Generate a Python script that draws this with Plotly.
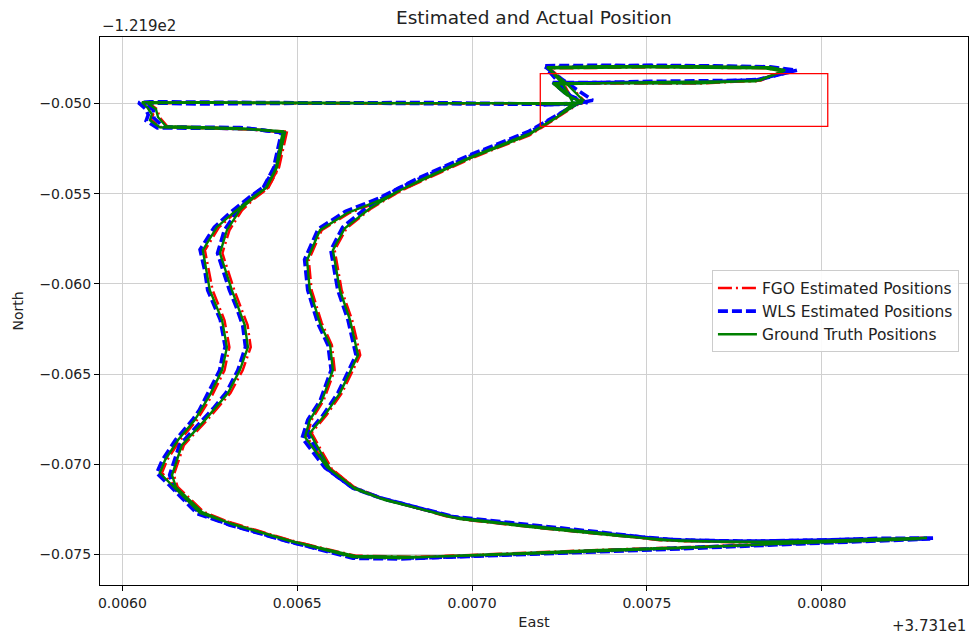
import plotly.graph_objects as go

# ---------------- data (offsets: East + 3.731e1, North - 1.219e2) ----------------
# Ground truth, lap 1
gt_east_1 = [0.007317, 0.007271, 0.007080, 0.006508, 0.006079, 0.006056, 0.006073, 0.006084, 0.006079, 0.006107,
             0.006365, 0.006465, 0.006442, 0.006413, 0.006373, 0.006316, 0.006270, 0.006230, 0.006250, 0.006285,
             0.006299, 0.006285, 0.006250, 0.006207, 0.006159, 0.006122, 0.006107, 0.006142, 0.006222, 0.006307,
             0.006471, 0.006659, 0.006794, 0.007080, 0.007366, 0.007652, 0.007995, 0.008301, 0.008167, 0.007995,
             0.007746, 0.007537, 0.007366, 0.007137, 0.006937, 0.006737, 0.006659, 0.006585, 0.006522, 0.006536,
             0.006571, 0.006602, 0.006594, 0.006565, 0.006536, 0.006528, 0.006565, 0.006642, 0.006737, 0.006851,
             0.006994, 0.007166, 0.007237, 0.007294, 0.007317, 0.007266, 0.007214, 0.007366, 0.007652, 0.007852,
             0.007895, 0.007824, 0.007652, 0.007366, 0.007231, 0.007271, 0.007317]
gt_north_1 = [-0.049928, -0.050039, -0.049983, -0.049983, -0.049928, -0.049928, -0.050261, -0.050593, -0.050926, -0.051314,
              -0.051425, -0.051591, -0.053531, -0.054640, -0.055194, -0.056081, -0.056857, -0.058132, -0.060349, -0.062012,
              -0.063509, -0.064784, -0.066170, -0.067555, -0.068664, -0.069773, -0.070493, -0.071159, -0.072711, -0.073265,
              -0.074207, -0.075150, -0.075205, -0.074983, -0.074761, -0.074595, -0.074318, -0.074096, -0.074152, -0.074263,
              -0.074318, -0.074207, -0.073819, -0.073376, -0.072933, -0.071880, -0.071270, -0.070161, -0.068498, -0.067555,
              -0.066447, -0.064784, -0.063398, -0.062178, -0.060349, -0.058686, -0.057023, -0.056081, -0.055360, -0.054252,
              -0.052977, -0.051646, -0.050815, -0.050094, -0.049817, -0.048819, -0.047988, -0.047932, -0.047932, -0.047988,
              -0.048154, -0.048708, -0.048875, -0.048875, -0.048875, -0.049540, -0.049928]
# Ground truth, lap 2
gt_east_2 = [0.007251, 0.006851, 0.006222, 0.006073, 0.006096, 0.006102, 0.006125, 0.006336, 0.006459, 0.006439,
             0.006410, 0.006373, 0.006336, 0.006299, 0.006279, 0.006313, 0.006350, 0.006359, 0.006336, 0.006302,
             0.006236, 0.006170, 0.006142, 0.006153, 0.006228, 0.006313, 0.006479, 0.006665, 0.006851, 0.007223,
             0.007595, 0.007938, 0.008281, 0.008081, 0.007824, 0.007595, 0.007423, 0.007194, 0.006965, 0.006751,
             0.006665, 0.006594, 0.006536, 0.006579, 0.006622, 0.006674, 0.006651, 0.006622, 0.006602, 0.006636,
             0.006708, 0.006794, 0.006994, 0.007160, 0.007243, 0.007289, 0.007260, 0.007218, 0.007509, 0.007837,
             0.007889, 0.007810, 0.007509, 0.007240, 0.007280, 0.007314, 0.007194]
gt_north_2 = [-0.049983, -0.049983, -0.049928, -0.049983, -0.050316, -0.050759, -0.051258, -0.051369, -0.051535, -0.053586,
              -0.054696, -0.055250, -0.055915, -0.057023, -0.058298, -0.060349, -0.062289, -0.063509, -0.064784, -0.066059,
              -0.067555, -0.068941, -0.070604, -0.071270, -0.072655, -0.073320, -0.074263, -0.075094, -0.075150, -0.074928,
              -0.074651, -0.074373, -0.074152, -0.074207, -0.074318, -0.074263, -0.073985, -0.073542, -0.073043, -0.071991,
              -0.071381, -0.070272, -0.068276, -0.067278, -0.066059, -0.063952, -0.062012, -0.060349, -0.058132, -0.056912,
              -0.055804, -0.054806, -0.053032, -0.051757, -0.050759, -0.049983, -0.048930, -0.048043, -0.047988, -0.048043,
              -0.048210, -0.048764, -0.048819, -0.048930, -0.049595, -0.049983, -0.050039]

# FGO estimates
fgo_east_1 = [0.007320, 0.007275, 0.007080, 0.006508, 0.006079, 0.006058, 0.006076, 0.006088, 0.006083, 0.006110,
              0.006365, 0.006470, 0.006448, 0.006418, 0.006378, 0.006320, 0.006276, 0.006236, 0.006258, 0.006292,
              0.006306, 0.006292, 0.006257, 0.006213, 0.006165, 0.006128, 0.006113, 0.006148, 0.006228, 0.006313,
              0.006475, 0.006662, 0.006794, 0.007080, 0.007366, 0.007652, 0.007995, 0.008290, 0.008167, 0.007995,
              0.007746, 0.007537, 0.007366, 0.007137, 0.006937, 0.006742, 0.006664, 0.006590, 0.006527, 0.006541,
              0.006576, 0.006607, 0.006599, 0.006570, 0.006541, 0.006533, 0.006570, 0.006647, 0.006742, 0.006855,
              0.006998, 0.007170, 0.007241, 0.007298, 0.007320, 0.007270, 0.007218, 0.007366, 0.007652, 0.007855,
              0.007892, 0.007826, 0.007652, 0.007366, 0.007234, 0.007274, 0.007320]
fgo_north_1 = [-0.049950, -0.050020, -0.049990, -0.049990, -0.049940, -0.049940, -0.050250, -0.050600, -0.050910, -0.051300,
               -0.051440, -0.051610, -0.053540, -0.054650, -0.055200, -0.056100, -0.056870, -0.058140, -0.060350, -0.062020,
               -0.063510, -0.064790, -0.066170, -0.067560, -0.068660, -0.069770, -0.070490, -0.071150, -0.072700, -0.073250,
               -0.074190, -0.075140, -0.075190, -0.074970, -0.074750, -0.074580, -0.074300, -0.074090, -0.074160, -0.074270,
               -0.074330, -0.074220, -0.073830, -0.073390, -0.072950, -0.071890, -0.071280, -0.070170, -0.068490, -0.067550,
               -0.066440, -0.064780, -0.063390, -0.062170, -0.060340, -0.058680, -0.057020, -0.056090, -0.055380, -0.054270,
               -0.052990, -0.051660, -0.050820, -0.050100, -0.049830, -0.048830, -0.048000, -0.047950, -0.047950, -0.048000,
               -0.048160, -0.048720, -0.048890, -0.048890, -0.048890, -0.049550, -0.049940]
fgo_east_2 = [0.007255, 0.006851, 0.006222, 0.006076, 0.006100, 0.006106, 0.006129, 0.006336, 0.006464, 0.006445,
              0.006416, 0.006378, 0.006342, 0.006306, 0.006286, 0.006320, 0.006358, 0.006367, 0.006344, 0.006309,
              0.006242, 0.006176, 0.006147, 0.006158, 0.006233, 0.006318, 0.006483, 0.006668, 0.006851, 0.007223,
              0.007595, 0.007938, 0.008278, 0.008081, 0.007824, 0.007595, 0.007423, 0.007194, 0.006965, 0.006756,
              0.006670, 0.006599, 0.006541, 0.006584, 0.006628, 0.006680, 0.006657, 0.006627, 0.006607, 0.006641,
              0.006712, 0.006798, 0.006998, 0.007164, 0.007246, 0.007292, 0.007263, 0.007221, 0.007509, 0.007840,
              0.007890, 0.007812, 0.007509, 0.007243, 0.007283, 0.007317, 0.007194]
fgo_north_2 = [-0.049990, -0.049990, -0.049940, -0.049990, -0.050320, -0.050760, -0.051270, -0.051380, -0.051550, -0.053600,
               -0.054700, -0.055260, -0.055920, -0.057030, -0.058300, -0.060350, -0.062290, -0.063510, -0.064790, -0.066060,
               -0.067560, -0.068940, -0.070600, -0.071260, -0.072650, -0.073310, -0.074250, -0.075080, -0.075140, -0.074920,
               -0.074640, -0.074370, -0.074150, -0.074210, -0.074320, -0.074270, -0.073990, -0.073550, -0.073050, -0.071990,
               -0.071380, -0.070270, -0.068270, -0.067270, -0.066050, -0.063950, -0.062010, -0.060350, -0.058130, -0.056920,
               -0.055810, -0.054810, -0.053040, -0.051760, -0.050760, -0.049990, -0.048930, -0.048050, -0.047990, -0.048040,
               -0.048210, -0.048760, -0.048820, -0.048930, -0.049590, -0.049980, -0.050040]

# WLS estimates
wls_east_1 = [0.007330, 0.007260, 0.007080, 0.006508, 0.006079, 0.006046, 0.006066, 0.006074, 0.006068, 0.006100,
              0.006365, 0.006462, 0.006436, 0.006406, 0.006366, 0.006308, 0.006263, 0.006222, 0.006236, 0.006244,
              0.006262, 0.006280, 0.006294, 0.006286, 0.006278, 0.006243, 0.006220, 0.006200, 0.006152, 0.006115,
              0.006098, 0.006136, 0.006214, 0.006302, 0.006471, 0.006659, 0.006794, 0.007080, 0.007366, 0.007652,
              0.007995, 0.008318, 0.008167, 0.007995, 0.007746, 0.007537, 0.007366, 0.007137, 0.006937, 0.006732,
              0.006654, 0.006579, 0.006514, 0.006530, 0.006566, 0.006597, 0.006588, 0.006559, 0.006530, 0.006521,
              0.006560, 0.006638, 0.006733, 0.006845, 0.006990, 0.007160, 0.007232, 0.007300, 0.007345, 0.007266,
              0.007205, 0.007366, 0.007652, 0.007852, 0.007929, 0.007824, 0.007652, 0.007366, 0.007231, 0.007271,
              0.007317]
wls_north_1 = [-0.049900, -0.050050, -0.050030, -0.049950, -0.049900, -0.049950, -0.050290, -0.050620, -0.050950, -0.051350,
               -0.051380, -0.051640, -0.053500, -0.054600, -0.055150, -0.056050, -0.056850, -0.058100, -0.059300, -0.060350,
               -0.061200, -0.062000, -0.063500, -0.064000, -0.064800, -0.066150, -0.067000, -0.067550, -0.068650, -0.069750,
               -0.070500, -0.071200, -0.072750, -0.073320, -0.074260, -0.075220, -0.075260, -0.075030, -0.074810, -0.074640,
               -0.074370, -0.074100, -0.074110, -0.074220, -0.074280, -0.074160, -0.073770, -0.073320, -0.072890, -0.071830,
               -0.071250, -0.070200, -0.068550, -0.067550, -0.066450, -0.064780, -0.063400, -0.062200, -0.060350, -0.058650,
               -0.056950, -0.055980, -0.055250, -0.054150, -0.052880, -0.051560, -0.050740, -0.050000, -0.049820, -0.048780,
               -0.047900, -0.047880, -0.047900, -0.047960, -0.048150, -0.048650, -0.048830, -0.048840, -0.048830, -0.049500,
               -0.049900]
wls_east_2 = [0.007251, 0.006851, 0.006222, 0.006062, 0.006088, 0.006090, 0.006118, 0.006336, 0.006455, 0.006432,
              0.006403, 0.006366, 0.006329, 0.006292, 0.006272, 0.006290, 0.006306, 0.006326, 0.006344, 0.006352,
              0.006341, 0.006330, 0.006296, 0.006260, 0.006229, 0.006163, 0.006135, 0.006146, 0.006220, 0.006306,
              0.006479, 0.006665, 0.006851, 0.007223, 0.007595, 0.007938, 0.008310, 0.008081, 0.007824, 0.007595,
              0.007423, 0.007194, 0.006965, 0.006746, 0.006659, 0.006588, 0.006529, 0.006573, 0.006616, 0.006668,
              0.006645, 0.006616, 0.006596, 0.006630, 0.006703, 0.006789, 0.006990, 0.007155, 0.007238, 0.007300,
              0.007250, 0.007210, 0.007509, 0.007837, 0.007920, 0.007810, 0.007509, 0.007240, 0.007280, 0.007330,
              0.007194]
wls_north_2 = [-0.050040, -0.049940, -0.050020, -0.049960, -0.050350, -0.050800, -0.051300, -0.051330, -0.051600, -0.053600,
               -0.054650, -0.055200, -0.055950, -0.057000, -0.058300, -0.059400, -0.060350, -0.061300, -0.062300, -0.063500,
               -0.064100, -0.064800, -0.066050, -0.066900, -0.067550, -0.068950, -0.070600, -0.071300, -0.072700, -0.073370,
               -0.074320, -0.075160, -0.075210, -0.074980, -0.074700, -0.074420, -0.074150, -0.074170, -0.074270, -0.074220,
               -0.073930, -0.073490, -0.072990, -0.071930, -0.071330, -0.070300, -0.068300, -0.067300, -0.066060, -0.063950,
               -0.062000, -0.060350, -0.058130, -0.056850, -0.055700, -0.054700, -0.052950, -0.051700, -0.050700, -0.050000,
               -0.048880, -0.047980, -0.047880, -0.047990, -0.048200, -0.048700, -0.048770, -0.048880, -0.049560, -0.049950,
               -0.050080]

# highlighted region (red box)
box_east = [0.007195, 0.008017]
box_north = [-0.051260, -0.048340]

x_ticks = [0.0060, 0.0065, 0.0070, 0.0075, 0.0080]
x_tick_text = ["0.0060", "0.0065", "0.0070", "0.0075", "0.0080"]
y_ticks = [-0.050, -0.055, -0.060, -0.065, -0.070, -0.075]
y_tick_text = ["\u22120.050", "\u22120.055", "\u22120.060", "\u22120.065", "\u22120.070", "\u22120.075"]

FONT = "DejaVu Sans"
TXT = "#222222"

fig = go.Figure()
fig.add_trace(go.Scatter(x=fgo_east_1 + [None] + fgo_east_2, y=fgo_north_1 + [None] + fgo_north_2,
                         mode="lines", name="FGO Estimated Positions", connectgaps=False,
                         line=dict(color="#ff0000", width=2.5, dash="14px,4px,2px,4px")))
fig.add_trace(go.Scatter(x=wls_east_1 + [None] + wls_east_2, y=wls_north_1 + [None] + wls_north_2,
                         mode="lines", name="WLS Estimated Positions",
                         line=dict(color="#0000ff", width=3.6, dash="10px,4px")))
fig.add_trace(go.Scatter(x=gt_east_1 + gt_east_2, y=gt_north_1 + gt_north_2,
                         mode="lines", name="Ground Truth Positions",
                         line=dict(color="#008000", width=2.4)))

fig.add_shape(type="rect", xref="x", yref="y", x0=box_east[0], x1=box_east[1],
              y0=box_north[0], y1=box_north[1], line=dict(color="#ff0000", width=1.3))

axis_common = dict(showline=True, mirror=True, linecolor="#000000", linewidth=1,
                   ticks="outside", ticklen=5, tickcolor="#000000", tickwidth=1,
                   showgrid=True, gridcolor="#d0d0d0", gridwidth=1.4, zeroline=False,
                   tickfont=dict(family=FONT, size=14, color=TXT))

fig.update_xaxes(range=[0.005936, 0.008418], tickvals=x_ticks, ticktext=x_tick_text,
                 title=dict(text="East", font=dict(family=FONT, size=14.5, color=TXT), standoff=7),
                 **axis_common)
fig.update_yaxes(range=[-0.076702, -0.046308], tickvals=y_ticks, ticktext=y_tick_text,
                 title=dict(text="North", font=dict(family=FONT, size=14, color=TXT), standoff=12),
                 **axis_common)

fig.add_annotation(text="\u22121.219e2", xref="paper", yref="paper", x=0, y=1,
                   xanchor="left", yanchor="bottom", yshift=0, showarrow=False,
                   font=dict(family=FONT, size=15, color=TXT))
fig.add_annotation(text="+3.731e1", xref="paper", yref="paper", x=1, y=0,
                   xanchor="right", yanchor="top", yshift=-30, showarrow=False,
                   font=dict(family=FONT, size=15, color=TXT))

fig.update_layout(
    width=969, height=641,
    margin=dict(l=100, r=1, t=37, b=56),
    paper_bgcolor="#ffffff", plot_bgcolor="#ffffff",
    title=dict(text="Estimated and Actual Position", x=0.551, xanchor="center",
               y=1 - 18 / 641, yanchor="middle", yref="container",
               font=dict(family=FONT, size=18.5, color=TXT)),
    legend=dict(x=0.705, y=0.574, xanchor="left", yanchor="top", itemwidth=39,
                bgcolor="rgba(255,255,255,0.9)", bordercolor="#cccccc", borderwidth=1,
                font=dict(family=FONT, size=15.5, color=TXT), tracegroupgap=0),
    showlegend=True,
)

fig.write_html("out.html")
